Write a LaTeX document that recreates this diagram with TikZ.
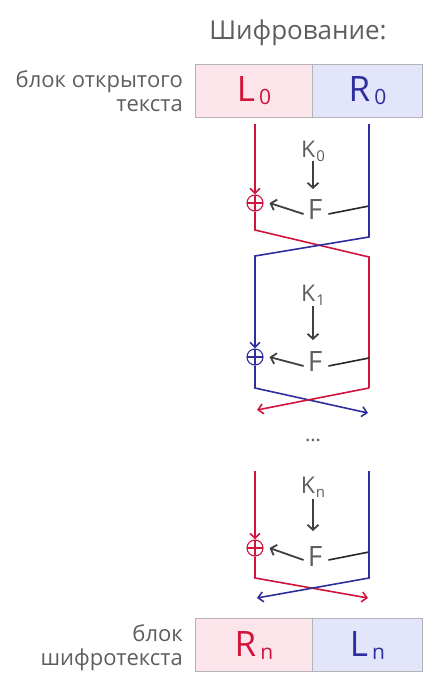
\documentclass[tikz,border=0pt]{standalone}
\usepackage{fontspec}
\setmainfont{Open Sans}
\usetikzlibrary{arrows.meta}
\definecolor{feistred}{HTML}{D0143C}
\definecolor{feistblue}{HTML}{2E2E9E}
\definecolor{pinkfill}{HTML}{FCE4EB}
\definecolor{bluefill}{HTML}{E3E6FA}
\definecolor{boxedge}{HTML}{B4B4B8}
\definecolor{txtgray}{HTML}{5E5E5E}
\definecolor{arrgray}{HTML}{404040}
\tikzset{
  half/.style={draw=boxedge, line width=1.2pt, minimum height=53pt, inner sep=0pt},
  lefthalf/.style={half, fill=pinkfill, minimum width=117pt},
  righthalf/.style={half, fill=bluefill, minimum width=110pt},
  bigletter/.style={font=\fontsize{35}{35}\selectfont},
  keytext/.style={text=txtgray, font=\fontsize{23}{23}\selectfont, inner sep=0pt},
  ftext/.style={text=txtgray, font=\fontsize{28}{28}\selectfont, inner sep=0pt},
  sidelabel/.style={text=txtgray, font=\fontsize{22}{24}\selectfont, align=right, anchor=east, inner sep=0pt},
  xorsym/.style={circle, draw, line width=1.1pt, minimum size=16pt, inner sep=0pt,
    path picture={\draw[line width=1.1pt] (path picture bounding box.north) -- (path picture bounding box.south)
      (path picture bounding box.west) -- (path picture bounding box.east);}},
  redwire/.style={draw=feistred, line width=1.6pt},
  bluewire/.style={draw=feistblue, line width=1.6pt},
  tip/.style={-{Straight Barb[length=5pt,width=10pt,line width=1.6pt]}},
  grayarrow/.style={draw=arrgray, line width=1.8pt, -{Straight Barb[length=5pt,width=11pt,line width=1.8pt]}},
  feedline/.style={draw=black!85, line width=1.6pt},
}
\newcommand{\subidx}[1]{\kern4pt\raisebox{-3pt}{\fontsize{21}{21}\selectfont #1}}
\newcommand{\kidx}[1]{\kern1pt\raisebox{-4pt}{\fontsize{15}{15}\selectfont #1}}
\begin{document}
\begin{tikzpicture}[x=1pt,y=-1pt]
  \useasboundingbox (0,0) rectangle (423,675);

  % heading and block labels
  \node[text=txtgray, font=\fontsize{26}{26}\selectfont] (title) at (298,33) {Шифрование:};
  \node[sidelabel] (plainlbl) at (183,91) {блок открытого\\текста};
  \node[sidelabel] (cipherlbl) at (183,648) {блок\\шифротекста};

  % input block
  \node[lefthalf, text=feistred, bigletter] (L0) at (254,91) {L\subidx{0}};
  \node[righthalf, text=feistblue, bigletter] (R0) at (367.5,91) {R\subidx{0}};

  % output block
  \node[lefthalf, text=feistred, bigletter] (Rn) at (254,645) {R\subidx{n}};
  \node[righthalf, text=feistblue, bigletter] (Ln) at (367.5,645) {L\subidx{n}};

  % ---------- round 0 ----------
  \node[keytext] (K0) at (313,151) {K\kidx{0}};
  \node[ftext] (F0) at (315,210) {F};
  \node[xorsym, draw=feistred] (X0) at (255,203) {};
  \coordinate (a0) at (255,124);
  \coordinate (b0) at (369,124);
  \coordinate (bt0) at (369,206);
  \draw[grayarrow] (313,161) -- (313,189);
  \draw[grayarrow] ([xshift=-4pt,yshift=-4pt]F0.west) -- ([xshift=6pt]X0.east);
  \draw[feedline] (bt0) -- ([xshift=6pt,yshift=-4pt]F0.east);
  \draw[redwire, tip] (a0) -- (X0.north);
  \draw[redwire] (X0.south) -- (255,230) -- (369,257) -- (369,388);
  \draw[bluewire] (b0) -- (369,237) -- (255,256) -- (255,300);

  % ---------- round 1 ----------
  \node[keytext] (K1) at (313,295) {K\kidx{1}};
  \node[ftext] (F1) at (315,362) {F};
  \node[xorsym, draw=feistblue] (X1) at (255,357) {};
  \coordinate (bt1) at (369,358);
  \draw[bluewire, tip] (255,299) -- (X1.north);
  \draw[grayarrow] (313,306) -- (313,340);
  \draw[feedline] (bt1) -- ([xshift=6pt,yshift=-4pt]F1.east);
  \draw[grayarrow] ([xshift=-4pt,yshift=-4pt]F1.west) -- ([xshift=6pt]X1.east);
  \draw[bluewire, tip] (X1.south) -- (255,388) -- (368,413);
  \draw[redwire, tip] (369,388) -- (257,410);

  \node[text=txtgray, font=\fontsize{20}{20}\selectfont] (dots) at (313,440) {...};

  % ---------- round n ----------
  \node[keytext] (Kn) at (313,487) {K\kidx{n}};
  \node[ftext] (Fn) at (315,556) {F};
  \node[xorsym, draw=feistred] (Xn) at (255,548) {};
  \coordinate (an) at (255,471);
  \coordinate (bn) at (369,471);
  \coordinate (btn) at (369,552);
  \draw[redwire, tip] (an) -- (Xn.north);
  \draw[grayarrow] (313,499) -- (313,531);
  \draw[feedline] (btn) -- ([xshift=6pt,yshift=-4pt]Fn.east);
  \draw[grayarrow] ([xshift=-4pt,yshift=-4pt]Fn.west) -- ([xshift=6pt]Xn.east);
  \draw[redwire, tip] (Xn.south) -- (255,578) -- (368,598);
  \draw[bluewire, tip] (bn) -- (369,578) -- (257,598);
\end{tikzpicture}
\end{document}
